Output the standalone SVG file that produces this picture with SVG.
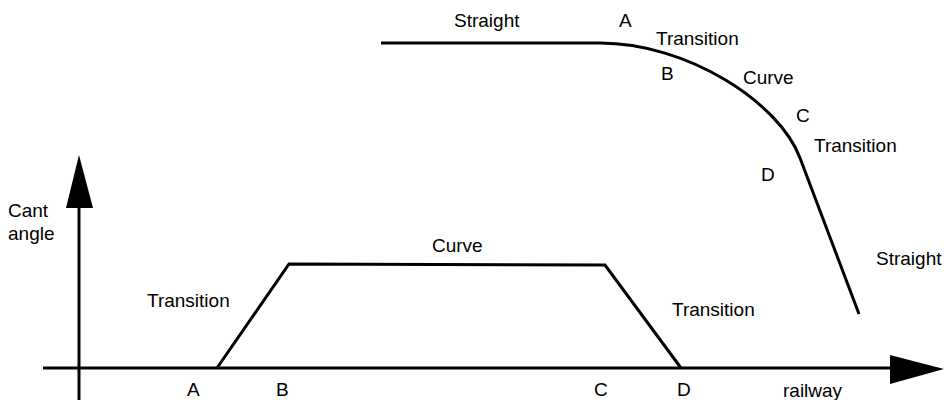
<svg xmlns="http://www.w3.org/2000/svg" width="944" height="400" viewBox="0 0 944 400">
<style>
text { font-family: "Liberation Sans", Arial, sans-serif; font-size: 19px; fill: #000; }
.ln { fill: none; stroke: #000; stroke-width: 3; stroke-linejoin: miter; }
</style>
<rect width="944" height="400" fill="#fff"/>
<g id="axes">
  <line class="ln" x1="79" y1="200" x2="79" y2="400"/>
  <polygon points="79,155 66,208 93,208" fill="#000"/>
  <line class="ln" x1="43" y1="368" x2="895" y2="368"/>
  <polygon points="944,369 890,355 890,384" fill="#000"/>
</g>
<g id="cant-profile">
  <polyline class="ln" points="217,368 289,264 605,265 681,368"/>
</g>
<g id="track-plan">
  <path class="ln" d="M381,43 L600,43 C687,43 779,102 800,158 L859,314"/>
</g>
<g id="labels">
  <text x="8" y="217">Cant</text>
  <text x="8" y="240">angle</text>
  <text x="147" y="307">Transition</text>
  <text x="432" y="252">Curve</text>
  <text x="672" y="316">Transition</text>
  <text x="187" y="396">A</text>
  <text x="276" y="396">B</text>
  <text x="594" y="396">C</text>
  <text x="677" y="396">D</text>
  <text x="783" y="397">railway</text>
  <text x="454" y="27">Straight</text>
  <text x="619" y="27">A</text>
  <text x="656" y="45">Transition</text>
  <text x="661" y="80">B</text>
  <text x="743" y="84">Curve</text>
  <text x="796" y="122">C</text>
  <text x="814" y="152">Transition</text>
  <text x="761" y="181">D</text>
  <text x="876" y="265">Straight</text>
</g>
</svg>
